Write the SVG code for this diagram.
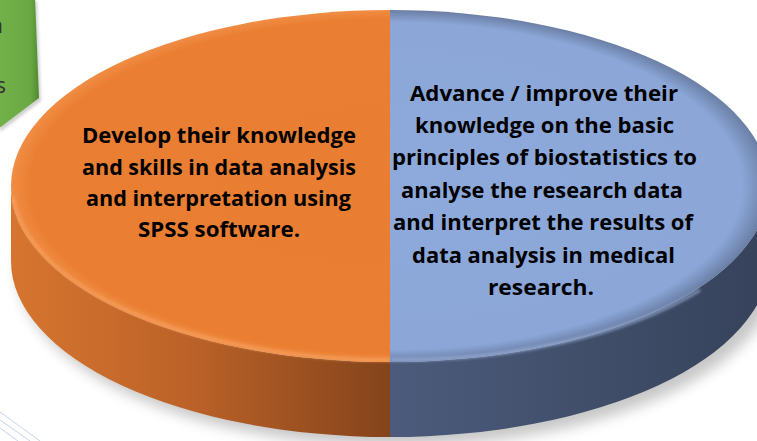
<svg xmlns="http://www.w3.org/2000/svg" width="757" height="441" viewBox="0 0 757 441">
  <style>
    .lbl { font-family: "Open Sans", Lato, "Liberation Sans", sans-serif; font-weight: bold; font-size: 21.5px; fill: #000; text-anchor: middle; }
    .gtxt { font-family: "Open Sans", Lato, "Liberation Sans", sans-serif; font-size: 22px; fill: #333333; text-anchor: end; }
    .deco { stroke: #c3d3ea; stroke-width: 1; fill: none; }
  </style>
  <defs>
    <filter id="shadowBlur" x="-20%" y="-30%" width="140%" height="160%">
      <feGaussianBlur stdDeviation="7"/>
    </filter>
    <filter id="soft" x="-10%" y="-10%" width="120%" height="120%">
      <feGaussianBlur stdDeviation="1.5"/>
    </filter>
    <linearGradient id="greenGrad" x1="0" y1="0" x2="1" y2="0">
      <stop offset="0" stop-color="#72b14a"/>
      <stop offset="0.8" stop-color="#6aa843"/>
      <stop offset="1" stop-color="#4f8a2f"/>
    </linearGradient>
    <linearGradient id="orangeSide" gradientUnits="userSpaceOnUse" x1="11" y1="0" x2="390" y2="0">
      <stop offset="0" stop-color="#d6752f"/>
      <stop offset="0.45" stop-color="#bd6329"/>
      <stop offset="1" stop-color="#84441b"/>
    </linearGradient>
    <linearGradient id="blueSide" gradientUnits="userSpaceOnUse" x1="390" y1="0" x2="769" y2="0">
      <stop offset="0" stop-color="#4c5b7b"/>
      <stop offset="0.5" stop-color="#414f6b"/>
      <stop offset="1" stop-color="#36425a"/>
    </linearGradient>
    <radialGradient id="blueTop" gradientUnits="userSpaceOnUse" cx="390" cy="186" r="379" gradientTransform="translate(0 186) scale(1 0.4644) translate(0 -186)">
      <stop offset="0" stop-color="#8eaadc"/>
      <stop offset="0.93" stop-color="#8ba6d7"/>
      <stop offset="1" stop-color="#6b7fa5"/>
    </radialGradient>
    <radialGradient id="orangeTop" gradientUnits="userSpaceOnUse" cx="390" cy="186" r="379" gradientTransform="translate(0 186) scale(1 0.4644) translate(0 -186)">
      <stop offset="0" stop-color="#e97d31"/>
      <stop offset="0.95" stop-color="#ea7f33"/>
      <stop offset="1" stop-color="#f08d44"/>
    </radialGradient>
  </defs>

  <rect width="757" height="441" fill="#ffffff"/>

  <!-- decorative thin lines bottom-left -->
  <g id="deco-lines">
    <line class="deco" x1="0" y1="412" x2="40" y2="441"/>
    <line class="deco" x1="0" y1="420" x2="30" y2="441"/>
    <line class="deco" x1="0" y1="428" x2="18" y2="441"/>
  </g>

  <!-- green shape (partially visible) -->
  <g id="green-shape">
    <polygon points="-2,-2 35,-2 39,98 -2,129" fill="#000" opacity="0.18" filter="url(#soft)" transform="translate(2 3)"/>
    <polygon points="-2,-2 35,-2 39,98 -2,129" fill="url(#greenGrad)"/>
    <text class="gtxt" x="3" y="33">n</text>
    <text class="gtxt" x="6" y="93">s</text>
  </g>

  <!-- pie shadow -->
  <ellipse cx="398" cy="270" rx="380" ry="176" fill="#000" opacity="0.22" filter="url(#shadowBlur)"/>

  <g id="pie-left">
    <path d="M11,186 A379,176 0 0 0 390,362 L390,437 A379,176 0 0 1 11,261 Z" fill="url(#orangeSide)"/>
    <path d="M390,10 A379,176 0 0 0 390,362 Z" fill="url(#orangeTop)"/>
    <path d="M13,196 A379,176 0 0 0 390,360" fill="none" stroke="#f6a160" stroke-width="3" opacity="0.8" filter="url(#soft)"/>
    <text class="lbl" x="219" y="143" textLength="274" lengthAdjust="spacingAndGlyphs">Develop their knowledge</text>
    <text class="lbl" x="219" y="174.5" textLength="274" lengthAdjust="spacingAndGlyphs">and skills in data analysis</text>
    <text class="lbl" x="218.5" y="205.5" textLength="265" lengthAdjust="spacingAndGlyphs">and interpretation using</text>
    <text class="lbl" x="219" y="236.5" textLength="162" lengthAdjust="spacingAndGlyphs">SPSS software.</text>
  </g>

  <g id="pie-right">
    <path d="M390,362 A379,176 0 0 0 769,186 L769,261 A379,176 0 0 1 390,437 Z" fill="url(#blueSide)"/>
    <path d="M390,10 A379,176 0 0 1 390,362 Z" fill="url(#blueTop)"/>
    <path d="M390,360 A379,176 0 0 0 700,290" fill="none" stroke="#a3b8e2" stroke-width="3" opacity="0.7" filter="url(#soft)"/>
    <text class="lbl" x="544" y="101" textLength="268" lengthAdjust="spacingAndGlyphs">Advance / improve their</text>
    <text class="lbl" x="544.5" y="133" textLength="259" lengthAdjust="spacingAndGlyphs">knowledge on the basic</text>
    <text class="lbl" x="544.5" y="165" textLength="305" lengthAdjust="spacingAndGlyphs">principles of biostatistics to</text>
    <text class="lbl" x="542" y="197.5" textLength="282" lengthAdjust="spacingAndGlyphs">analyse the research data</text>
    <text class="lbl" x="543" y="230" textLength="300" lengthAdjust="spacingAndGlyphs">and interpret the results of</text>
    <text class="lbl" x="543.5" y="262.5" textLength="263" lengthAdjust="spacingAndGlyphs">data analysis in medical</text>
    <text class="lbl" x="541" y="295" textLength="106" lengthAdjust="spacingAndGlyphs">research.</text>
  </g>
</svg>
